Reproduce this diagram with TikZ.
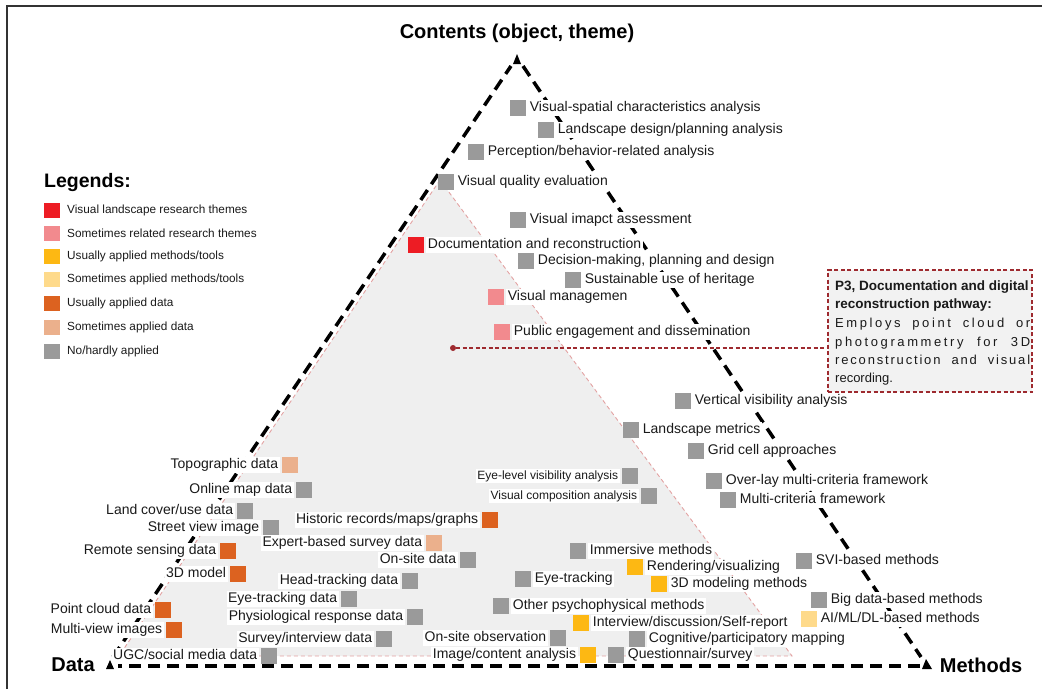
\documentclass[tikz,border=0pt]{standalone}
\usepackage{fontspec}
\setmainfont{Liberation Sans}

\definecolor{ink}{HTML}{1A1A1A}
\definecolor{cTheme}{HTML}{ED1C24}
\definecolor{cThemeS}{HTML}{F28A8E}
\definecolor{cTool}{HTML}{FDB813}
\definecolor{cToolS}{HTML}{FEDA8B}
\definecolor{cData}{HTML}{DC6220}
\definecolor{cDataS}{HTML}{EBB08C}
\definecolor{cNone}{HTML}{9A9A9A}
\definecolor{zone}{HTML}{EFEFEF}
\definecolor{zoneEdge}{HTML}{E3A2A2}
\definecolor{note}{HTML}{9E2A2F}
\definecolor{noteFill}{HTML}{F2F2F2}
\definecolor{frameC}{HTML}{333333}

\tikzset{
  sq/.style={rectangle, draw=none, minimum size=16pt, inner sep=0pt},
  lab/.style={fill=white, text=ink, inner xsep=1.5pt, inner ysep=1.5pt,
    text height=10.2pt, text depth=3pt, font=\fontsize{14}{16}\selectfont},
  labsmall/.style={lab, text height=8.8pt, text depth=2.6pt, font=\fontsize{12}{14}\selectfont},
  axislab/.style={text=black, inner sep=0pt, font=\fontsize{20}{24}\selectfont\bfseries},
  axisline/.style={black, line width=3.5pt, dash pattern=on 12pt off 7pt},
  tipmark/.style={fill=black, draw=none},
  zonestyle/.style={fill=zone, draw=zoneEdge, line width=0.9pt, dash pattern=on 4pt off 3pt},
  legsq/.style={rectangle, minimum width=16pt, minimum height=15pt, inner sep=0pt},
  legtxt/.style={anchor=west, inner sep=0pt, text=ink, font=\fontsize{11.8}{14}\selectfont},
  notebox/.style={draw=note, fill=noteFill, line width=1.4pt, dash pattern=on 4pt off 2.5pt,
    minimum width=204pt, minimum height=122pt, inner sep=0pt},
  noteline/.style={note, line width=1.4pt, dash pattern=on 4pt off 2.5pt},
  notebold/.style={anchor=base west, inner sep=0pt, text=ink, font=\fontsize{13.5}{16}\selectfont\bfseries},
  notetext/.style={anchor=base west, inner sep=0pt, text=ink, font=\fontsize{13}{16}\selectfont},
}

% square marker with its label on the right / on the left
\newcommand\markR[5]{%
  \node[sq,fill=#2] (#1) at (#3,#4) {};
  \node[lab,anchor=west,xshift=2pt] (#1t) at (#1.east) {#5};}
\newcommand\markL[5]{%
  \node[sq,fill=#2] (#1) at (#3,#4) {};
  \node[lab,anchor=east,xshift=-2pt] (#1t) at (#1.west) {#5};}
\newcommand\markLs[5]{%
  \node[sq,fill=#2] (#1) at (#3,#4) {};
  \node[labsmall,anchor=east,xshift=-2pt] (#1t) at (#1.west) {#5};}
% justified, letter-spaced line of the note
\newcommand\spacedline[2]{\makebox[195pt][s]{\addfontfeature{LetterSpace=#1}#2}}

\begin{document}
\begin{tikzpicture}[x=1pt,y=-1pt]
\useasboundingbox (0,0) rectangle (1042,689);

% outer frame
\draw[frameC, line width=2pt] (7,689) -- (7,6) -- (1042,6);

% shaded zone of the documentation pathway
\coordinate (zA) at (440,180);
\coordinate (zB) at (119,656);
\coordinate (zC) at (792,656);
\filldraw[zonestyle] (zA) -- (zB) -- (zC) -- cycle;

% the three axes
\coordinate (lTop) at (511,66);  \coordinate (lBot) at (113,657);
\coordinate (rTop) at (523,66);  \coordinate (rBot) at (921,657);
\coordinate (bL) at (118,666);   \coordinate (bR) at (920,666);
\draw[axisline] (lBot) -- (lTop);
\draw[axisline] (rTop) -- (rBot);
\draw[axisline] (bR) -- (bL);
\fill[tipmark] (513,64) -- (517,54) -- (521,64) -- cycle;
\fill[tipmark] (106,669) -- (110,660) -- (114,669) -- cycle;
\fill[tipmark] (922,669) -- (926,659) -- (932,669) -- cycle;

\node[axislab] (contents) at (517,33) {Contents (object, theme)};
\node[axislab] (data) at (73,665) {Data};
\node[axislab] (methods) at (981,665) {Methods};

% legend
\node[anchor=west, inner sep=0pt, text=black, font=\fontsize{19.5}{22}\selectfont\bfseries] (legT) at (44,182) {Legends:};
\node[legsq,fill=cTheme]  (g1) at (52,210) {}; \node[legtxt] (g1t) at (67,210) {Visual landscape research themes};
\node[legsq,fill=cThemeS] (g2) at (52,233) {}; \node[legtxt] (g2t) at (67,233) {Sometimes related research themes};
\node[legsq,fill=cTool]   (g3) at (52,256) {}; \node[legtxt] (g3t) at (67,256) {Usually applied methods/tools};
\node[legsq,fill=cToolS]  (g4) at (52,279) {}; \node[legtxt] (g4t) at (67,279) {Sometimes applied methods/tools};
\node[legsq,fill=cData]   (g5) at (52,303) {}; \node[legtxt] (g5t) at (67,303) {Usually applied data};
\node[legsq,fill=cDataS]  (g6) at (52,327) {}; \node[legtxt] (g6t) at (67,327) {Sometimes applied data};
\node[legsq,fill=cNone]   (g7) at (52,351) {}; \node[legtxt] (g7t) at (67,351) {No/hardly applied};

% contents (themes)
\markR{t1}{cNone}{518}{108}{Visual-spatial characteristics analysis}
\markR{t2}{cNone}{546}{130}{Landscape design/planning analysis}
\markR{t3}{cNone}{476}{152}{Perception/behavior-related analysis}
\markR{t4}{cNone}{446}{182}{Visual quality evaluation}
\markR{t5}{cNone}{518}{220}{Visual imapct assessment}
\markR{t6}{cTheme}{416}{245}{Documentation and reconstruction}
\markR{t7}{cNone}{526}{261}{Decision-making, planning and design}
\markR{t8}{cNone}{573}{280}{Sustainable use of heritage}
\markR{t9}{cThemeS}{496}{297}{Visual managemen}
\markR{t10}{cThemeS}{502}{332}{Public engagement and dissemination}

% methods
\markR{m1}{cNone}{683}{401}{Vertical visibility analysis}
\markR{m2}{cNone}{631}{430}{Landscape metrics}
\markR{m3}{cNone}{696}{451}{Grid cell approaches}
\markR{m4}{cNone}{714}{481}{Over-lay multi-criteria framework}
\markR{m5}{cNone}{728}{500}{Multi-criteria framework}
\markR{m6}{cNone}{804}{561}{SVI-based methods}
\markR{m7}{cNone}{819}{600}{Big data-based methods}
\markR{m8}{cToolS}{809}{619}{AI/ML/DL-based methods}
\markLs{m9}{cNone}{630}{476}{Eye-level visibility analysis}
\markLs{m10}{cNone}{649}{496}{Visual composition analysis}
\markR{m11}{cNone}{578}{551}{Immersive methods}
\markR{m12}{cTool}{635}{567}{Rendering/visualizing}
\markR{m13}{cTool}{659}{584}{3D modeling methods}
\markR{m14}{cNone}{523}{579}{Eye-tracking\hspace{9pt}}
\markR{m15}{cNone}{501}{606}{Other psychophysical methods}
\markR{m16}{cTool}{581}{623}{Interview/discussion/Self-report}
\markL{m17}{cNone}{558}{638}{On-site observation}
\markR{m18}{cNone}{637}{639}{Cognitive/participatory mapping}
\markL{m19}{cTool}{588}{655}{Image/content analysis}
\markR{m20}{cNone}{616}{655}{Questionnair/survey\hspace{10pt}}

% data
\markL{d1}{cDataS}{290}{465}{Topographic data}
\markL{d2}{cNone}{304}{490}{Online map data}
\markL{d3}{cNone}{245}{511}{Land cover/use data}
\markL{d4}{cNone}{271}{528}{Street view image}
\markL{d5}{cData}{228}{551}{Remote sensing data}
\markL{d6}{cData}{238}{574}{3D model}
\markL{d7}{cData}{163}{610}{Point cloud data}
\markL{d8}{cData}{174}{630}{Multi-view images}
\markL{d9}{cNone}{269}{656}{UGC/social media data}
\markL{d10}{cData}{490}{520}{Historic records/maps/graphs}
\markL{d11}{cDataS}{434}{543}{Expert-based survey data}
\markL{d12}{cNone}{468}{560}{On-site data}
\markL{d13}{cNone}{410}{581}{Head-tracking data}
\markL{d14}{cNone}{349}{599}{Eye-tracking data}
\markL{d15}{cNone}{415}{617}{Physiological response data}
\markL{d16}{cNone}{384}{639}{Survey/interview data}

% pathway note
\node[circle, fill=note, inner sep=0pt, minimum size=6pt] (dot) at (453,348) {};
\node[notebox] (note) at (930,331) {};
\draw[noteline] (dot) -- (dot -| note.west);
\node[notebold] (n1) at (835,290) {P3, Documentation and digital};
\node[notebold] (n2) at (835,308) {reconstruction pathway:};
\node[notetext] (n3) at (835,327) {\spacedline{20}{Employs point cloud or}};
\node[notetext] (n4) at (835,346) {\spacedline{20}{photogrammetry for 3D}};
\node[notetext] (n5) at (835,364) {\spacedline{14}{reconstruction and visual}};
\node[notetext] (n6) at (835,382) {recording.};
\end{tikzpicture}
\end{document}
